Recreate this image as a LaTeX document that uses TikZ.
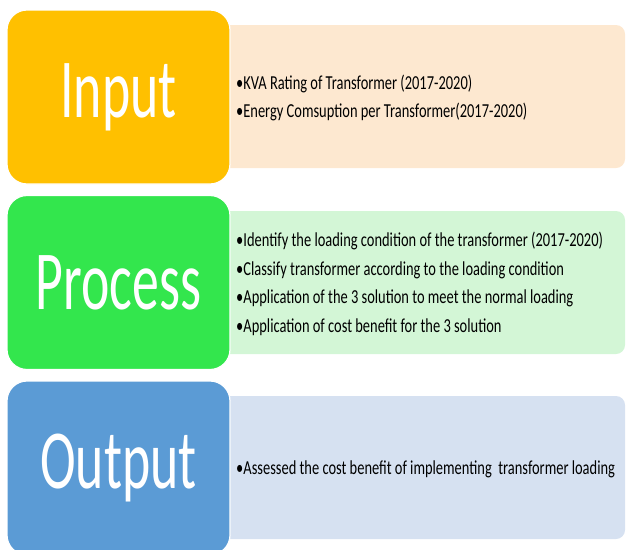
\documentclass[tikz,border=0pt]{standalone}
\usepackage{fontspec}
\setmainfont{Carlito}
\newfontfamily\narrowfont[FakeStretch=0.64]{Carlito}
\newfontfamily\listfont[FakeStretch=0.73]{Carlito}

\definecolor{inputfill}{HTML}{FFC000}
\definecolor{inputlight}{HTML}{FDE8D0}
\definecolor{processfill}{HTML}{33E64D}
\definecolor{processlight}{HTML}{D3F6D6}
\definecolor{outputfill}{HTML}{5B9BD5}
\definecolor{outputlight}{HTML}{D6E1F1}

\begin{document}
\begin{tikzpicture}[x=1pt, y=-1pt]

   \tikzstyle{stage}=[rectangle, rounded corners=20pt, draw=white, line width=1.2pt, text=white, minimum width=223pt, minimum height=174pt, font=\narrowfont\fontsize{84}{84}\selectfont]
   \tikzstyle{detail}=[rectangle, rounded corners=9pt, minimum width=410pt, minimum height=143pt]
   \tikzstyle{items}=[anchor=west, align=left, inner sep=0pt, text=black, font=\listfont\fontsize{19.8}{28.5}\selectfont]

   \useasboundingbox (0,0) rectangle (626,549);

   % light panels behind
   \node[detail, fill=inputlight]   (di) at (420,96.5)  {};
   \node[detail, fill=processlight] (dp) at (420,282.5) {};
   \node[detail, fill=outputlight]  (do) at (420,467.5) {};

   % stage boxes
   \node[stage, fill=inputfill]   (si) at (118.5,97)    {Input};
   \node[stage, fill=processfill] (sp) at (118.5,282.5) {Process};
   \node[stage, fill=outputfill]  (so) at (118.5,468)   {Output};

   % bullet lists
   \node[items] (li) at (236,98) {•KVA Rating of Transformer (2017-2020)\\
      •Energy Comsuption per Transformer(2017-2020)};
   \node[items] (lp) at (236,284) {•Identify the loading condition of the transformer (2017-2020)\\
      •Classify transformer according to the loading condition\\
      •Application of the 3 solution to meet the normal loading\\
      •Application of cost benefit for the 3 solution};
   \node[items] (lo) at (236,469) {•Assessed the cost benefit of implementing~ transformer loading};

\end{tikzpicture}
\end{document}
